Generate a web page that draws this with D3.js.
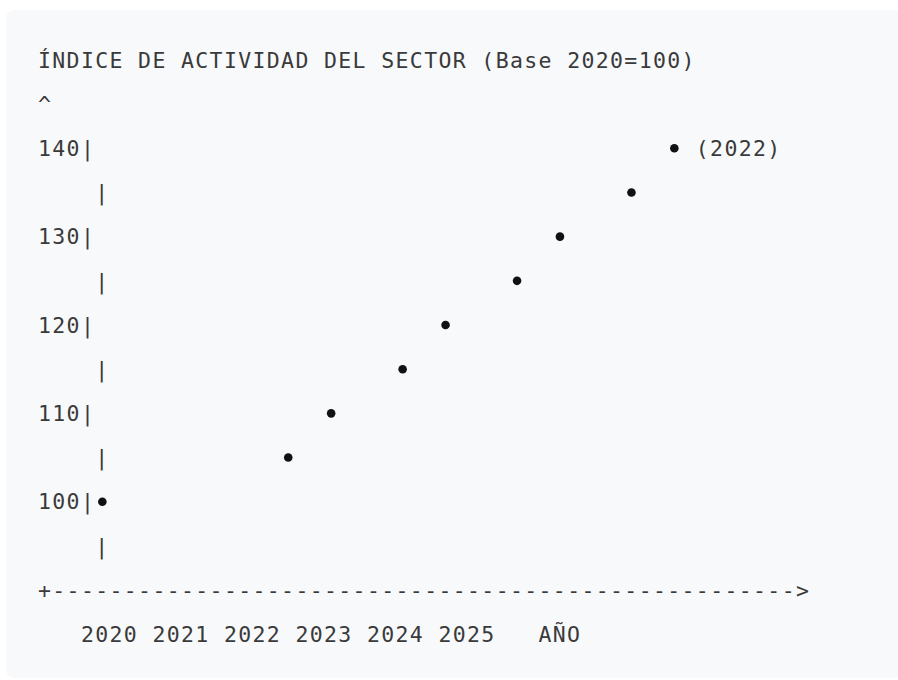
<!DOCTYPE html>
<html>
<head>
<meta charset="utf-8">
<script src="https://cdn.jsdelivr.net/npm/d3@7"></script>
<style>
  html, body { margin: 0; padding: 0; background: #fff; }
  svg { display: block; }
</style>
</head>
<body>
<svg id="chart" width="898" height="680"></svg>
<script>
// Data
const titulo = "ÍNDICE DE ACTIVIDAD DEL SECTOR (Base 2020=100)";
const indice = [100, 105, 110, 115, 120, 125, 130, 135, 140];
const periodo = [2019.9, 2022.5, 2023.1, 2024.1, 2024.7, 2025.7, 2026.3, 2027.3, 2027.9];
const etiquetaPunto = "(2022)";
const ticksY = [140, 130, 120, 110, 100];
const ticksYMenores = [135, 125, 115, 105, 95];
const anos = [2020, 2021, 2022, 2023, 2024, 2025];
const tituloX = "AÑO";

// Grid of the monospace block
let left = 37,
  charW = 14.3,
  fontSize = 21.5,
  textFill = "#3a3a3a",
  dotFill = "#111",
  font = "'DejaVu Sans Mono', 'Liberation Mono', monospace";

const svg = d3.select("#chart");

// panel background
svg.append("rect")
  .attr("x", 6).attr("y", 10)
  .attr("width", 910).attr("height", 668)
  .attr("rx", 8)
  .attr("fill", "#f8f9fb");

// column -> pixel (left edge of a character cell)
const col = d3.scaleLinear().domain([0, 1]).range([left, left + charW]);
// year -> pixel (2020 centred under its label, 5 columns per year)
const x = d3.scaleLinear().domain([2020, 2021]).range([col(5), col(10)]);
// index value -> row centre
const y = d3.scaleLinear().domain([100, 140]).range([501.7, 148.3]);

const g = svg.append("g")
  .attr("font-family", font)
  .attr("font-size", fontSize)
  .attr("fill", textFill)
  .attr("letter-spacing", (charW - 0.602 * fontSize) + "px");

function texto(str, c, v) {
  return g.append("text")
    .attr("x", col(c) + 1)
    .attr("y", y(v))
    .attr("dy", "0.36em")
    .attr("xml:space", "preserve")
    .text(str);
}

// title row and arrow head
texto(titulo, 0, 150);
texto("^", 0, 145);

// y ticks "140|" etc
ticksY.forEach(v => texto(String(v) + "|", 0, v));
ticksYMenores.forEach(v => texto("|", 4, v));

// x axis line
texto("+" + "-".repeat(52) + ">", 0, 90);

// year labels
g.selectAll(".ano")
  .data(anos)
  .join("text")
  .attr("class", "ano")
  .attr("x", d => x(d) - 2 * charW + 1)
  .attr("y", y(85))
  .attr("dy", "0.36em")
  .text(d => d);

texto(tituloX, 35, 85);

// points
svg.selectAll(".punto")
  .data(indice)
  .join("circle")
  .attr("class", "punto")
  .attr("cx", (d, i) => x(periodo[i]) + 1)
  .attr("cy", d => y(d))
  .attr("r", 4.3)
  .attr("fill", dotFill);

// label next to the last point
texto(etiquetaPunto, 46, indice[indice.length - 1]);
</script>
</body>
</html>
